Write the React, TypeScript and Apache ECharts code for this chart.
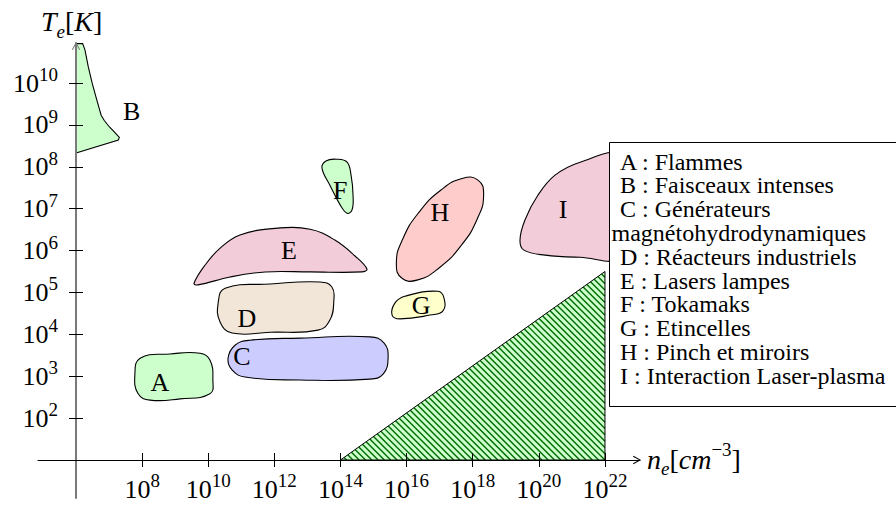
import React, { useEffect, useRef } from 'react';
import * as echarts from 'echarts';

const SERIF = 'Liberation Serif';

// ---- data (exponents of 10) ----
const xTickValues = [8, 10, 12, 14, 16, 18, 20, 22];
const yTickValues = [2, 3, 4, 5, 6, 7, 8, 9, 10];

const regionNames = ['A', 'B', 'C', 'D', 'E', 'F', 'G', 'H', 'I'];
const regionColors = ['#ccffcc', '#ccffcc', '#ccccff', '#f2e6d9', '#f2ccd9', '#ccffcc', '#ffffcc', '#ffcccc', '#f2ccd9'];
const regionSmooth = [0.45, 0, 0.45, 0.45, 0.4, 0.4, 0.45, 0.5, 0.4];

const outlineA = [[7.94, 3.43], [8.84, 3.53], [9.75, 3.55], [10.05, 3.39], [10.14, 2.91], [10.05, 2.58], [9.15, 2.46], [8.24, 2.43], [7.88, 2.58], [7.78, 3.03]];
const outlineB = [[6.0, 10.94], [6.2, 10.94], [6.27, 10.79], [6.37, 10.39], [6.49, 9.99], [6.63, 9.59], [6.76, 9.23], [6.85, 9.11], [7.01, 8.95], [7.15, 8.84], [7.31, 8.7], [7.28, 8.64], [6.0, 8.33]];
const outlineC = [[10.6, 3.43], [10.81, 3.74], [11.26, 3.86], [12.78, 3.91], [14.89, 3.94], [15.32, 3.79], [15.44, 3.43], [15.29, 3.05], [14.89, 2.93], [12.78, 2.91], [11.11, 2.98], [10.72, 3.15]];
const outlineD = [[10.51, 5.1], [11.87, 5.2], [13.38, 5.25], [13.74, 5.13], [13.8, 4.82], [13.68, 4.34], [13.32, 4.1], [11.87, 4.05], [10.72, 4.03], [10.36, 4.29], [10.3, 4.75]];
const outlineE = [[9.57, 5.22], [9.9, 5.65], [10.36, 6.06], [10.96, 6.37], [12.02, 6.53], [13.08, 6.51], [13.83, 6.25], [14.44, 5.87], [14.8, 5.56], [14.65, 5.49], [13.08, 5.49], [11.72, 5.49], [10.66, 5.37], [9.69, 5.18]];
const outlineF = [[13.44, 7.97], [13.56, 8.14], [13.89, 8.18], [14.2, 8.11], [14.32, 7.8], [14.38, 7.32], [14.35, 6.97], [14.2, 6.89], [13.99, 7.09], [13.68, 7.56]];
const outlineG = [[15.56, 4.46], [15.65, 4.75], [15.95, 4.91], [16.95, 5.03], [17.13, 4.87], [17.1, 4.56], [16.71, 4.46], [15.8, 4.37]];
const outlineH = [[18.16, 7.68], [18.33, 7.33], [18.14, 6.76], [17.65, 6.12], [16.99, 5.59], [16.34, 5.3], [15.86, 5.34], [15.69, 5.7], [15.88, 6.27], [16.37, 6.91], [17.03, 7.44], [17.68, 7.72]];
const outlineI = [[22.45, 8.28], [21.25, 8.11], [20.49, 7.8], [19.97, 7.32], [19.58, 6.73], [19.43, 6.25], [19.55, 6.01], [20.19, 5.89], [21.25, 5.84], [22.45, 5.84], [22.6, 7.09]];
const regionOutlines = [outlineA, outlineB, outlineC, outlineD, outlineE, outlineF, outlineG, outlineH, outlineI];

const labelX = [8.54, 7.68, 11.02, 11.17, 12.44, 13.99, 16.44, 17.01, 20.73];
const labelY = [2.84, 9.31, 3.46, 4.39, 5.99, 7.44, 4.7, 6.92, 6.97];

const hatchTriangle = [[14, 1], [22, 1], [22, 5.5]];

const legendLines = [
  'A : Flammes',
  'B : Faisceaux intenses',
  'C : Générateurs',
  'magnétohydrodynamiques',
  'D : Réacteurs industriels',
  'E : Lasers lampes',
  'F : Tokamaks',
  'G : Etincelles',
  'H : Pinch et miroirs',
  'I : Interaction Laser-plasma',
];

// ---- layout ----
const X_MIN = 4.85;
const X_MAX = 23.06;
const Y_MIN = 0.093;
const Y_MAX = 10.955;
const HATCH_STEP = 6.3;
const ARROW = 'path://M0 9 L5 0 L10 9 L8.9 9.6 L5 2.4 L1.1 9.6 Z';

const tickRich = {
  b: { fontSize: 26, fontFamily: SERIF, lineHeight: 36, verticalAlign: 'middle', color: '#000' },
  s: { fontSize: 19, fontFamily: SERIF, verticalAlign: 'top', color: '#000' },
};
const tickFormatter = (v: number) => `{b|10}{s|${Math.round(v)}}`;

function regionSeries(i: number) {
  const outline = regionOutlines[i];
  return {
    type: 'custom',
    name: regionNames[i],
    data: outline,
    encode: { x: 0, y: 1 },
    z: 2,
    silent: true,
    renderItem: (params: any, api: any) => {
      if (params.dataIndex !== 0) return null;
      const pts = outline.map((p) => api.coord(p));
      const lp = api.coord([labelX[i], labelY[i]]);
      return {
        type: 'group',
        children: [
          {
            type: 'polygon',
            shape: { points: pts, smooth: regionSmooth[i] },
            style: { fill: regionColors[i], stroke: '#000', lineWidth: 1.1 },
          },
          {
            type: 'text',
            x: lp[0],
            y: lp[1],
            style: {
              text: regionNames[i],
              fill: '#000',
              fontSize: 26,
              fontFamily: SERIF,
              align: 'center',
              verticalAlign: 'middle',
            },
          },
        ],
      };
    },
  };
}

const hatchSeries = {
  type: 'custom',
  name: 'zone',
  data: hatchTriangle,
  encode: { x: 0, y: 1 },
  z: 2,
  silent: true,
  renderItem: (params: any, api: any) => {
    if (params.dataIndex !== 0) return null;
    const pts = hatchTriangle.map((p) => api.coord(p));
    const cs = pts.map((p: number[]) => p[1] - p[0]);
    const cMin = Math.min(...cs);
    const cMax = Math.max(...cs);
    const lines: any[] = [];
    for (let c = Math.ceil(cMin / HATCH_STEP) * HATCH_STEP; c <= cMax; c += HATCH_STEP) {
      const ts: number[] = [];
      for (let k = 0; k < pts.length; k++) {
        const a = pts[k];
        const b = pts[(k + 1) % pts.length];
        const dx = b[0] - a[0];
        const dy = b[1] - a[1];
        const den = dx - dy;
        if (Math.abs(den) < 1e-9) continue;
        const u = (a[1] - a[0] - c) / den;
        if (u < -1e-9 || u > 1 + 1e-9) continue;
        ts.push(a[0] + u * dx);
      }
      if (ts.length >= 2) {
        const t0 = Math.min(...ts);
        const t1 = Math.max(...ts);
        if (t1 - t0 > 0.5) {
          lines.push({
            type: 'line',
            shape: { x1: t0, y1: t0 + c, x2: t1, y2: t1 + c },
            style: { stroke: '#006a00', lineWidth: 1.4 },
          });
        }
      }
    }
    return {
      type: 'group',
      children: [
        { type: 'polygon', shape: { points: pts }, style: { fill: '#ccffcc' } },
        ...lines,
        { type: 'polygon', shape: { points: pts }, style: { fill: 'none', stroke: '#000', lineWidth: 1 } },
      ],
    };
  },
};

export default function App() {
  const ref = useRef<HTMLDivElement>(null);

  useEffect(() => {
    if (!ref.current) return;
    const chart = echarts.init(ref.current, null, { renderer: 'svg' });

    const legendElements: any[] = [
      {
        type: 'rect',
        z: 100,
        shape: { x: 609.5, y: 142.5, width: 300, height: 264 },
        style: { fill: '#fff', stroke: '#000', lineWidth: 1 },
      },
      ...legendLines.map((t, k) => ({
        type: 'text',
        z: 101,
        x: /^[A-I] :/.test(t) ? 620 : 611.5,
        y: 161.5 + k * 23.8,
        style: {
          text: t,
          fill: '#000',
          fontSize: 24,
          fontFamily: SERIF,
          align: 'left',
          verticalAlign: 'middle',
        },
      })),
    ];

    const titleRich = {
      it: { fontSize: 28, fontFamily: SERIF, fontStyle: 'italic', lineHeight: 38, verticalAlign: 'middle', color: '#000' },
      rm: { fontSize: 28, fontFamily: SERIF, lineHeight: 38, verticalAlign: 'middle', color: '#000' },
      sub: { fontSize: 19, fontFamily: SERIF, fontStyle: 'italic', verticalAlign: 'bottom', color: '#000' },
      sup: { fontSize: 19, fontFamily: SERIF, verticalAlign: 'top', color: '#000' },
    };

    const option: any = {
      animation: false,
      backgroundColor: '#ffffff',
      grid: { left: 38, right: 256, top: 43, bottom: 8, containLabel: false, outerBoundsMode: 'none' },
      xAxis: [
        {
          type: 'value',
          min: X_MIN,
          max: X_MAX,
          position: 'bottom',
          offset: -38,
          z: 5,
          axisLine: {
            show: true,
            onZero: false,
            lineStyle: { color: '#000', width: 1 },
            symbol: ['none', ARROW],
            symbolSize: [9, 8],
            symbolOffset: [0, -3],
          },
          axisTick: { show: true, customValues: xTickValues, length: 7, lineStyle: { color: '#000', width: 1 } },
          axisLabel: { show: true, customValues: xTickValues, formatter: tickFormatter, rich: tickRich, margin: 11 },
          splitLine: { show: false },
        },
        {
          type: 'value',
          min: X_MIN,
          max: X_MAX,
          position: 'bottom',
          offset: -38,
          z: 5,
          axisLine: { show: false, onZero: false },
          axisTick: { show: true, inside: true, customValues: xTickValues, length: 7, lineStyle: { color: '#000', width: 1 } },
          axisLabel: { show: false },
          splitLine: { show: false },
        },
      ],
      yAxis: [
        {
          type: 'value',
          min: Y_MIN,
          max: Y_MAX,
          position: 'left',
          offset: -38,
          z: 5,
          axisLine: {
            show: true,
            onZero: false,
            lineStyle: { color: '#7a7a7a', width: 2 },
            symbol: ['none', ARROW],
            symbolSize: [9, 8],
            symbolOffset: [0, -3],
          },
          axisTick: { show: true, customValues: yTickValues, length: 7, lineStyle: { color: '#000', width: 1 } },
          axisLabel: { show: true, customValues: yTickValues, formatter: tickFormatter, rich: tickRich, margin: 18 },
          splitLine: { show: false },
        },
        {
          type: 'value',
          min: Y_MIN,
          max: Y_MAX,
          position: 'left',
          offset: -38,
          z: 5,
          axisLine: { show: false, onZero: false },
          axisTick: { show: true, inside: true, customValues: yTickValues, length: 7, lineStyle: { color: '#000', width: 1 } },
          axisLabel: { show: false },
          splitLine: { show: false },
        },
      ],
      graphic: {
        elements: [
          ...legendElements,
          {
            type: 'text',
            z: 100,
            x: 41,
            y: 21.5,
            style: {
              text: '{it|T}{sub|e}{rm|[}{it|K}{rm|]}',
              rich: titleRich,
              align: 'left',
              verticalAlign: 'middle',
            },
          },
          {
            type: 'text',
            z: 100,
            x: 647,
            y: 459,
            style: {
              text: '{it|n}{sub|e}{rm|[}{it|cm}{sup|\u22123}{rm|]}',
              rich: titleRich,
              align: 'left',
              verticalAlign: 'middle',
            },
          },
        ],
      },
      series: [hatchSeries, ...regionNames.map((_, i) => regionSeries(i))],
    };

    chart.setOption(option);
    return () => chart.dispose();
  }, []);

  return (
    <div
      ref={ref}
      style={{ position: 'fixed', left: 0, top: 0, width: 896, height: 506, background: '#fff' }}
    />
  );
}
